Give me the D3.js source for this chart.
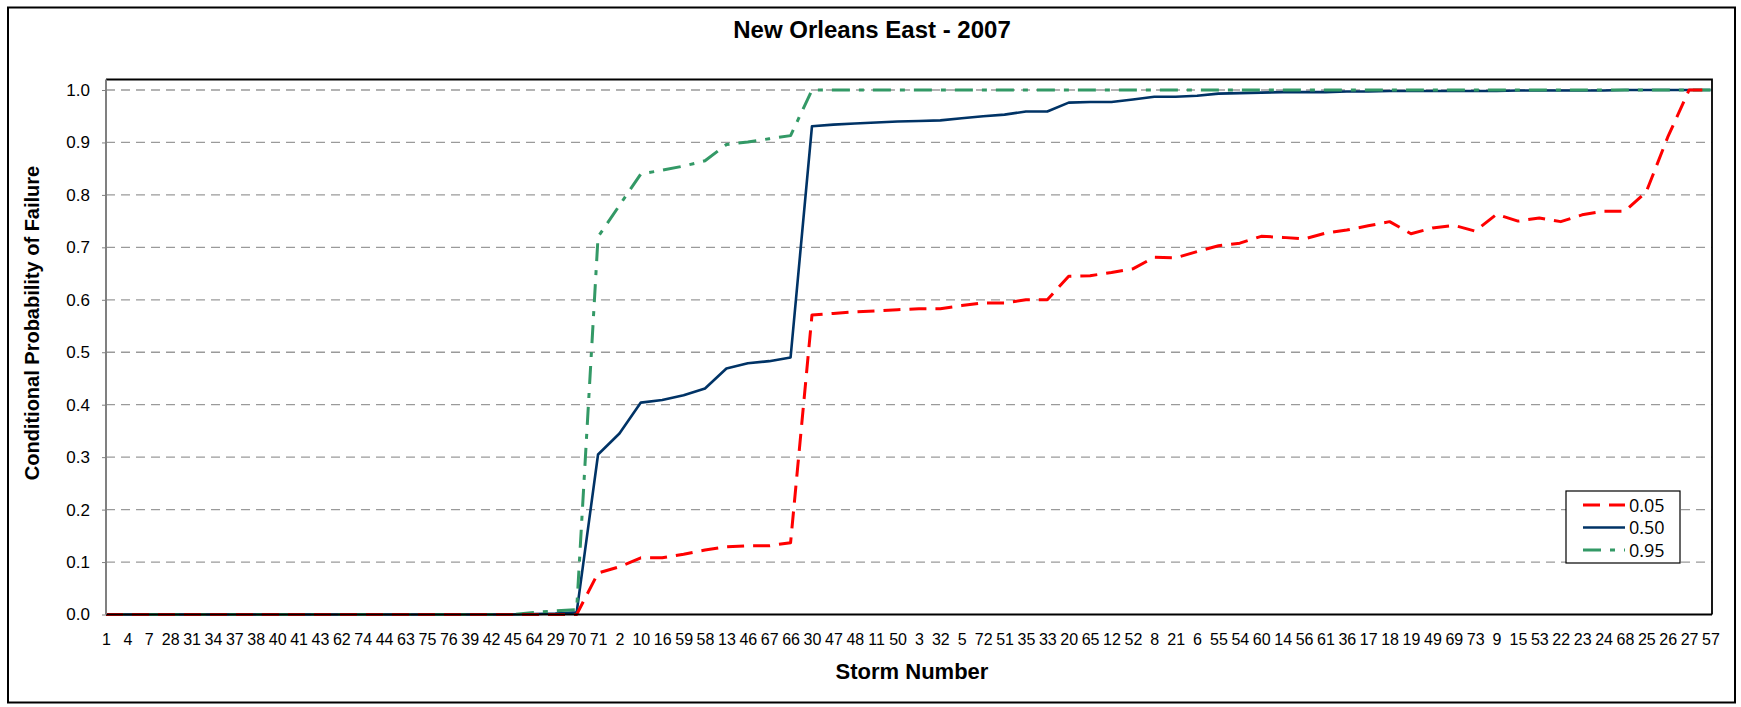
<!DOCTYPE html>
<html>
<head>
<meta charset="utf-8">
<script src="https://cdn.jsdelivr.net/npm/d3@7/dist/d3.min.js"></script>
<style>
  body { margin: 0; background: #fff; }
  svg { display: block; }
  text { font-family: "Liberation Sans", Arial, sans-serif; fill: #000; }
</style>
</head>
<body>
<svg id="chart" width="1741" height="707"></svg>
<script>
// Storm numbers, in the order they are plotted along the x axis
const storms = [1, 4, 7, 28, 31, 34, 37, 38, 40, 41, 43, 62, 74, 44, 63, 75, 76, 39, 42, 45,
  64, 29, 70, 71, 2, 10, 16, 59, 58, 13, 46, 67, 66, 30, 47, 48, 11, 50, 3, 32,
  5, 72, 51, 35, 33, 20, 65, 12, 52, 8, 21, 6, 55, 54, 60, 14, 56, 61, 36, 17,
  18, 19, 49, 69, 73, 9, 15, 53, 22, 23, 24, 68, 25, 26, 27, 57];

// Conditional probability of failure, 5% quantile
const p05 = [0, 0, 0, 0, 0, 0, 0, 0, 0, 0, 0, 0, 0, 0, 0, 0, 0, 0, 0, 0,
  0, 0, 0, 0.079, 0.091, 0.108, 0.108, 0.115, 0.123, 0.129, 0.131, 0.131, 0.137, 0.571, 0.574, 0.577, 0.579, 0.581, 0.583, 0.583,
  0.589, 0.594, 0.594, 0.600, 0.600, 0.645, 0.646, 0.652, 0.659, 0.681, 0.680, 0.692, 0.703, 0.708, 0.721, 0.719, 0.716, 0.727, 0.733, 0.741,
  0.749, 0.726, 0.737, 0.742, 0.731, 0.763, 0.750, 0.756, 0.749, 0.762, 0.769, 0.769, 0.806, 0.910, 1.0, 1.0];

// Median (50%)
const p50 = [0, 0, 0, 0, 0, 0, 0, 0, 0, 0, 0, 0, 0, 0, 0, 0, 0, 0, 0, 0,
  0.001, 0.002, 0.004, 0.305, 0.345, 0.404, 0.409, 0.418, 0.431, 0.469, 0.479, 0.483, 0.490, 0.931, 0.934, 0.936, 0.938, 0.940, 0.941, 0.942,
  0.946, 0.950, 0.953, 0.959, 0.959, 0.976, 0.977, 0.977, 0.982, 0.987, 0.987, 0.989, 0.993, 0.994, 0.995, 0.996, 0.996, 0.996, 0.997, 0.997,
  0.998, 0.998, 0.998, 0.998, 0.998, 0.998, 0.999, 0.999, 0.999, 0.999, 0.999, 1.0, 1.0, 1.0, 1.0, 1.0];

// 95% quantile
const p95 = [0, 0, 0, 0, 0, 0, 0, 0, 0, 0, 0, 0, 0, 0, 0, 0, 0, 0, 0, 0,
  0.004, 0.007, 0.009, 0.720, 0.780, 0.840, 0.847, 0.855, 0.865, 0.896, 0.901, 0.907, 0.913, 1.0, 1.0, 1.0, 1.0, 1.0, 1.0, 1.0,
  1.0, 1.0, 1.0, 1.0, 1.0, 1.0, 1.0, 1.0, 1.0, 1.0, 1.0, 1.0, 1.0, 1.0, 1.0, 1.0, 1.0, 1.0, 1.0, 1.0,
  1.0, 1.0, 1.0, 1.0, 1.0, 1.0, 1.0, 1.0, 1.0, 1.0, 1.0, 1.0, 1.0, 1.0, 1.0, 1.0];

const yTicks = [0, 0.1, 0.2, 0.3, 0.4, 0.5, 0.6, 0.7, 0.8, 0.9, 1.0];
const seriesLabels = ["0.05", "0.50", "0.95"];

const chartTitle = "New Orleans East - 2007";
const xTitle = "Storm Number";
const yTitle = "Conditional Probability of Failure";

// Series styling (legend order)
const series = [
  { label: seriesLabels[0], values: p05, color: "#ff0000", width: 3,   dash: "17,9" },
  { label: seriesLabels[1], values: p50, color: "#003366", width: 2.6, dash: null },
  { label: seriesLabels[2], values: p95, color: "#339966", width: 3,   dash: "18,9,5,9" }
];
// Drawing order: median underneath, then 95%, then 5% on top
const drawOrder = [1, 2, 0];

const svg = d3.select("#chart");
const plot = { left: 106, right: 1712, top: 79.5, bottom: 614.5 };

const x = d3.scalePoint().domain(storms).range([plot.left, plot.right - 1.5]);
const y = d3.scaleLinear().domain([0, 1.02]).range([plot.bottom, plot.top]);

// Outer chart border
svg.append("rect")
  .attr("x", 8).attr("y", 7.5).attr("width", 1727).attr("height", 695)
  .attr("fill", "#fff").attr("stroke", "#000").attr("stroke-width", 2);

// Title
svg.append("text")
  .attr("x", 872).attr("y", 38)
  .attr("text-anchor", "middle")
  .style("font-weight", "bold").style("font-size", "24px")
  .text(chartTitle);

// Horizontal dashed gridlines
svg.append("g")
  .selectAll("line")
  .data(yTicks.slice(1))
  .join("line")
  .attr("x1", plot.left).attr("x2", plot.right)
  .attr("y1", d => y(d)).attr("y2", d => y(d))
  .attr("stroke", "#9a9a9a").attr("stroke-width", 1.3)
  .attr("stroke-dasharray", "9,6");

// Plot area frame (top and right)
svg.append("path")
  .attr("d", `M${plot.left},${plot.top}H${plot.right}V${plot.bottom}`)
  .attr("fill", "none").attr("stroke", "#000").attr("stroke-width", 1.8);

// Series lines
const line = d3.line()
  .x((d, i) => x(storms[i]))
  .y(d => y(d));

const lineG = svg.append("g");
drawOrder.forEach(k => {
  const s = series[k];
  lineG.append("path")
    .datum(s.values)
    .attr("d", line)
    .attr("fill", "none")
    .attr("stroke", s.color)
    .attr("stroke-width", s.width)
    .attr("stroke-linejoin", "round")
    .attr("stroke-dasharray", s.dash);
});

// X axis
const xAxis = svg.append("g")
  .attr("transform", `translate(0,${plot.bottom})`)
  .call(d3.axisBottom(x).tickSize(0).tickPadding(0));
xAxis.select(".domain")
  .attr("d", `M${plot.left},0H${plot.right}`)
  .attr("stroke", "#000").attr("stroke-width", 2);
xAxis.selectAll(".tick text")
  .attr("y", 30)
  .attr("dy", null)
  .style("font-size", "16px")
  .style("font-family", "'Liberation Sans', Arial, sans-serif")
  .attr("fill", "#000");

// Y axis
const yAxis = svg.append("g")
  .attr("transform", `translate(${plot.left},0)`)
  .call(d3.axisLeft(y).tickValues(yTicks).tickFormat(d3.format(".1f")).tickSize(4).tickPadding(12));
yAxis.select(".domain")
  .attr("d", `M0,${plot.top}V${plot.bottom}`)
  .attr("stroke", "#808080").attr("stroke-width", 2);
yAxis.selectAll(".tick line").attr("stroke", "#808080");
yAxis.selectAll(".tick text")
  .style("font-size", "17px")
  .style("font-family", "'Liberation Sans', Arial, sans-serif")
  .attr("fill", "#000");

// Axis titles
svg.append("text")
  .attr("x", 912).attr("y", 679)
  .attr("text-anchor", "middle")
  .style("font-weight", "bold").style("font-size", "22px")
  .text(xTitle);

svg.append("text")
  .attr("transform", "translate(39,323) rotate(-90)")
  .attr("text-anchor", "middle")
  .style("font-weight", "bold").style("font-size", "20px")
  .text(yTitle);

// Legend
const legend = svg.append("g").attr("transform", "translate(1566,491)");
legend.append("rect")
  .attr("width", 114).attr("height", 72)
  .attr("fill", "#fff").attr("stroke", "#000").attr("stroke-width", 1.2);
series.forEach((s, i) => {
  const ly = 14 + i * 22.5;
  legend.append("line")
    .attr("x1", 17).attr("x2", 59).attr("y1", ly).attr("y2", ly)
    .attr("stroke", s.color).attr("stroke-width", s.width)
    .attr("stroke-dasharray", s.dash);
  legend.append("text")
    .attr("x", 63).attr("y", ly + 6.5)
    .style("font-family", "'Open Sans', 'DejaVu Sans', sans-serif")
    .style("font-size", "18px")
    .text(s.label);
});
</script>
</body>
</html>
